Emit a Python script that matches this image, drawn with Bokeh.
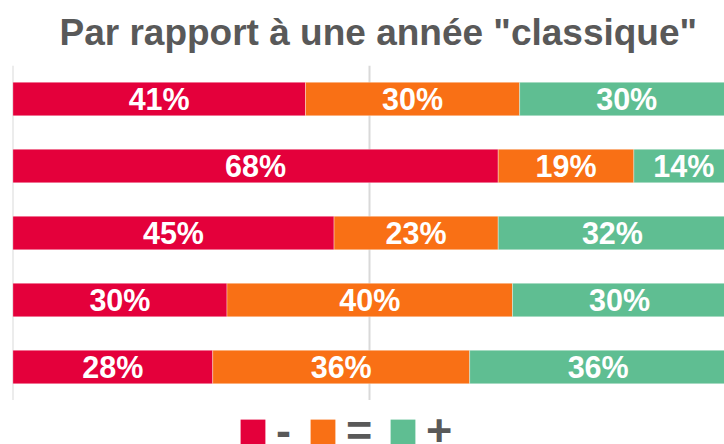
import numpy as np
from bokeh.plotting import figure
from bokeh.layouts import column
from bokeh.models import ColumnDataSource, Range1d, FactorRange, FixedTicker, Legend, LegendItem, LabelSet, Label
from bokeh.core.properties import value
from bokeh.embed import file_html
from bokeh.resources import INLINE

# ---- data ----
rows = ["Q1", "Q2", "Q3", "Q4", "Q5"]
moins = [41, 68, 45, 30, 28]   # "-"
egal = [30, 19, 23, 40, 36]    # "="
plus = [30, 14, 32, 30, 36]    # "+"
series_names = ["-", "=", "+"]
colors = ["#E4003B", "#F97015", "#5FBE92"]
title_text = 'Par rapport à une année "classique"'

FONT = "Liberation Sans"
GREY = "#595959"


def bare(fig):
    fig.xaxis.visible = False
    fig.yaxis.visible = False
    fig.grid.visible = False
    fig.outline_line_color = None


# title strip
t = figure(width=724, height=65, output_backend="svg", toolbar_location=None,
           x_range=Range1d(0, 1), y_range=Range1d(0, 1),
           min_border_left=0, min_border_right=0, min_border_top=0, min_border_bottom=0)
bare(t)
t.add_layout(Label(x=47, y=33, x_units="screen", y_units="screen", text=title_text,
                   text_font=FONT, text_font_size="37px", text_font_style="bold",
                   text_color=GREY, text_baseline="alphabetic", text_align="left"))

# main chart
p = figure(width=724, height=335, output_backend="svg", toolbar_location=None,
           y_range=FactorRange(*rows[::-1]), x_range=Range1d(-0.05, 99.7),
           min_border_left=12, min_border_right=0, min_border_top=0,
           min_border_bottom=0)
bare(p)
p.xgrid.visible = True
p.xgrid.ticker = FixedTicker(ticks=[0, 50, 100])
p.xgrid.grid_line_color = "#d9d9d9"
p.xgrid.grid_line_width = 2

# legend strip (separate figure, holds only the legend)
q = figure(width=724, height=44, output_backend="svg", toolbar_location=None,
           x_range=Range1d(0, 1), y_range=Range1d(0, 1),
           min_border_left=0, min_border_right=0, min_border_top=0, min_border_bottom=0)
bare(q)

vals = [np.array(moins, float), np.array(egal, float), np.array(plus, float)]
left = np.zeros(len(rows))
legend_x = [225, 295, 375]
for name, v, c, lx in zip(series_names, vals, colors, legend_x):
    right = left + v
    src = ColumnDataSource(dict(y=rows, left=left.copy(), right=right.copy(),
                                mid=(left + right) / 2, zero=np.zeros(len(rows)),
                                lab=[f"{int(round(x))}%" for x in v]))
    p.hbar(y="y", left="left", right="right", height=0.5, source=src,
           fill_color=c, line_color="white", line_alpha=0.35, line_width=1)
    p.add_layout(LabelSet(x="mid", y="y", text="lab", source=src,
                          text_align="center", text_baseline="middle",
                          text_color="white", text_font=value(FONT),
                          text_font_style="bold", text_font_size="30.5px"))
    # zero-size proxy renderer: only its fill style is used by the legend swatch
    r = q.rect(x="zero", y="zero", width=0, height=0, source=src,
               fill_color=c, line_color=None)
    lg = Legend(items=[LegendItem(label=name, renderers=[r])], location=(lx, -13),
                glyph_width=31, glyph_height=31, label_standoff=8,
                padding=0, margin=0, border_line_alpha=0, background_fill_alpha=0,
                label_text_font=FONT, label_text_font_style="bold",
                label_text_font_size="45px", label_text_color=GREY)
    q.add_layout(lg, "center")
    left = right

open("out.html", "w").write(file_html(column(t, p, q, spacing=0), INLINE))
